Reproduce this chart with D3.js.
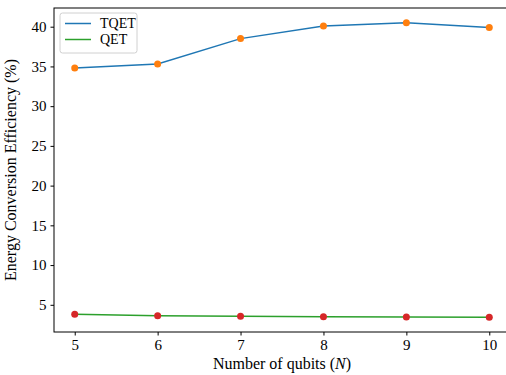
<!DOCTYPE html>
<html>
<head>
<meta charset="utf-8">
<script src="https://cdn.jsdelivr.net/npm/d3@7"></script>
<style>
  body { margin: 0; background: #fff; }
  svg text { font-family: "Liberation Serif", "DejaVu Serif", serif; fill: #000; }
</style>
</head>
<body>
<div id="chart"></div>
<script>
const qubits = [5, 6, 7, 8, 9, 10];
const tqet = [34.8, 35.3, 38.5, 40.1, 40.5, 39.9];
const qet = [3.8, 3.63, 3.55, 3.5, 3.46, 3.43];
const yTicks = [5, 10, 15, 20, 25, 30, 35, 40];

const W = 506, H = 375;
const margin = { top: 8, right: -4, bottom: 43, left: 54 };
const width = W - margin.left - margin.right;
const height = H - margin.top - margin.bottom;

const svg = d3.select('#chart').append('svg')
    .attr('width', W)
    .attr('height', H);

const g = svg.append('g')
    .attr('transform', `translate(${margin.left},${margin.top})`);

const xScale = d3.scaleLinear().domain([4.75, 10.25]).range([0, width]);
const yMin = 3.43, yMax = 40.5, pad = (yMax - yMin) * 0.05;
const yScale = d3.scaleLinear().domain([yMin - pad, yMax + pad]).range([height, 0]);

// frame
g.append('rect')
    .attr('width', width).attr('height', height)
    .attr('fill', 'none').attr('stroke', '#000').attr('stroke-width', 1);

const xAxis = g.append('g')
    .attr('transform', `translate(0,${height})`)
    .call(d3.axisBottom(xScale).tickValues(qubits).tickSize(3.5).tickPadding(4).tickFormat(d3.format('d')));
xAxis.select('.domain').remove();
xAxis.selectAll('text').style('font-size', '15px');

const yAxis = g.append('g')
    .call(d3.axisLeft(yScale).tickValues(yTicks).tickSize(3.5).tickPadding(4));
yAxis.select('.domain').remove();
yAxis.selectAll('text').style('font-size', '15px');

g.append('text')
    .attr('x', xScale(7.5))
    .attr('y', height + 37)
    .attr('text-anchor', 'middle')
    .style('font-size', '16px')
    .html('Number of qubits (<tspan font-style="italic">N</tspan>)');

g.append('text')
    .attr('transform', 'rotate(-90)')
    .attr('x', -height / 2)
    .attr('y', -38)
    .attr('text-anchor', 'middle')
    .style('font-size', '16px')
    .text('Energy Conversion Efficiency (%)');

const line = d3.line()
    .x((d, i) => xScale(qubits[i]))
    .y(d => yScale(d));

g.append('path').datum(tqet)
    .attr('d', line).attr('fill', 'none')
    .attr('stroke', '#1f77b4').attr('stroke-width', 1.5);
g.append('path').datum(qet)
    .attr('d', line).attr('fill', 'none')
    .attr('stroke', '#2ca02c').attr('stroke-width', 1.5);

g.selectAll('.pt-t').data(tqet).enter().append('circle')
    .attr('cx', (d, i) => xScale(qubits[i]))
    .attr('cy', d => yScale(d))
    .attr('r', 3.5).attr('fill', '#ff7f0e');
g.selectAll('.pt-q').data(qet).enter().append('circle')
    .attr('cx', (d, i) => xScale(qubits[i]))
    .attr('cy', d => yScale(d))
    .attr('r', 3.5).attr('fill', '#d62728');

// legend
const legend = g.append('g').attr('transform', 'translate(6,5)');
legend.append('rect')
    .attr('width', 77).attr('height', 40).attr('rx', 2.5)
    .attr('fill', '#fff').attr('fill-opacity', 0.8)
    .attr('stroke', '#d0d0d0').attr('stroke-width', 1);
const items = [{ name: 'TQET', color: '#1f77b4' }, { name: 'QET', color: '#2ca02c' }];
items.forEach((it, i) => {
    const y = 10.5 + i * 16;
    legend.append('line')
        .attr('x1', 5).attr('x2', 31).attr('y1', y).attr('y2', y)
        .attr('stroke', it.color).attr('stroke-width', 1.5);
    legend.append('text')
        .attr('x', 40).attr('y', y + 4.5)
        .style('font-size', '14px')
        .text(it.name);
});
</script>
</body>
</html>
